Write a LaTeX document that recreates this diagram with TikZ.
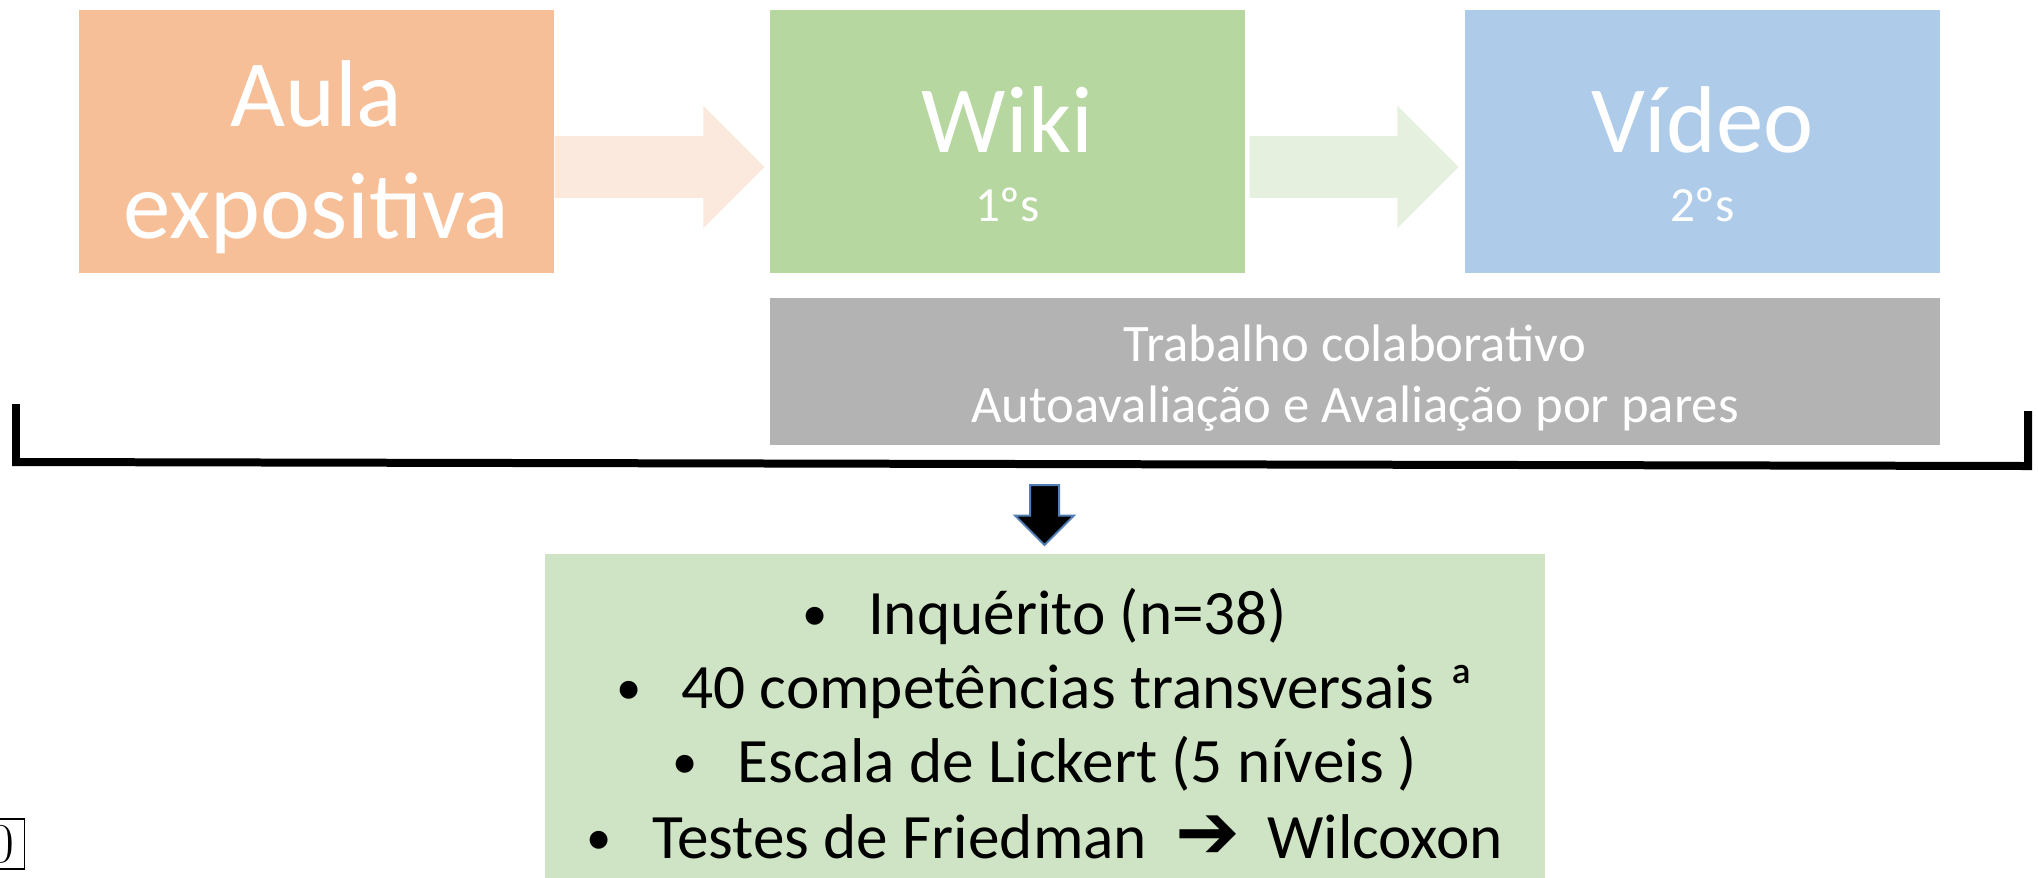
\documentclass[tikz,border=0pt]{standalone}
\usepackage{fontspec}
\usepackage{graphicx}
\newfontfamily\calFont{Carlito}
\newfontfamily\symFont{DejaVu Sans}
\usetikzlibrary{shapes.arrows}

\definecolor{aulaColor}{RGB}{247,191,152}
\definecolor{wikiColor}{RGB}{183,215,160}
\definecolor{videoColor}{RGB}{174,204,234}
\definecolor{grayColor}{RGB}{179,179,179}
\definecolor{resultsColor}{RGB}{207,228,196}
\definecolor{aulaArrowColor}{RGB}{251,233,222}
\definecolor{wikiArrowColor}{RGB}{230,240,223}
\definecolor{outlineColor}{RGB}{80,126,180}

\newcommand{\itm}{\raisebox{0.06em}{\scalebox{0.8}{\textbullet}}\hspace{0.8cm}}

\begin{document}
\begin{tikzpicture}[x=0.02cm, y=-0.02cm,
    boxStyle/.style={rectangle, inner sep=0, minimum width=9.5cm, minimum height=5.26cm},
    titleStyle/.style={anchor=base, inner sep=0, text=white, font=\calFont\fontsize{54}{64}\selectfont},
    subStyle/.style={anchor=base, inner sep=0, text=white, font=\calFont\fontsize{28}{34}\selectfont},
    grayTextStyle/.style={anchor=base, inner sep=0, text=white, font=\calFont\fontsize{30}{35}\selectfont},
    listStyle/.style={anchor=base, inner sep=0, text=black, font=\calFont\fontsize{36}{42}\selectfont},
    fatArrow/.style={single arrow, inner xsep=0, inner ysep=0.61cm, single arrow head extend=0.61cm, anchor=tail},
    downArrow/.style={single arrow, inner xsep=0, inner ysep=0.27cm, rotate=-90, minimum height=1.2cm, single arrow head extend=0.3cm, fill=black, draw=outlineColor, line width=0.04cm}]
    \useasboundingbox (0,0) rectangle (2038,877);

    \node[boxStyle, fill=aulaColor]  (aula_box)  at ( 316.5, 141.5) {};
    \node[boxStyle, fill=wikiColor]  (wiki_box)  at (1007.5, 141.5) {};
    \node[boxStyle, fill=videoColor] (video_box) at (1702.5, 141.5) {};

    \node[titleStyle] (aula_t1)  at ( 316.5, 126) {Aula};
    \node[titleStyle] (aula_t2)  at ( 316.5, 238) {expositiva};
    \node[titleStyle] (wiki_t)   at (1007.5, 152) {Wiki};
    \node[subStyle]   (wiki_s)   at (1007.5, 221) {1ºs};
    \node[titleStyle] (video_t)  at (1702.5, 152) {Vídeo};
    \node[subStyle]   (video_s)  at (1702.5, 221) {2ºs};

    \node[fatArrow, fill=aulaArrowColor, minimum height=4.2cm, yshift=-0.51cm] (arr_1) at (aula_box.east) {};
    \node[fatArrow, fill=wikiArrowColor, minimum height=4.18cm, xshift=0.08cm, yshift=-0.51cm] (arr_2) at (wiki_box.east) {};

    \node[rectangle, fill=grayColor, minimum width=23.4cm, minimum height=2.94cm] (collab_box) at (1355, 371.5) {};
    \node[grayTextStyle] (collab_t1) at (1355, 361) {Trabalho colaborativo};
    \node[grayTextStyle] (collab_t2) at (1355, 422) {Autoavaliação e Avaliação por pares};

    % bracket
    \draw[line width=0.16cm, line join=miter] (16,404) -- (16,462) -- (2028,466) -- (2028,411);

    \node[downArrow, anchor=tail] (down_arr) at (1044.5, 484) {};

    \node[rectangle, fill=resultsColor, minimum width=20cm, minimum height=6.52cm] (results_box) at (1045, 717) {};
    \node[listStyle] (res_1) at (1045, 634) {\itm Inquérito (n=38)};
    \node[listStyle] (res_2) at (1045, 708) {\itm 40 competências transversais ª};
    \node[listStyle] (res_3) at (1045, 782) {\itm Escala de Lickert (5 níveis )};
    \node[listStyle] (res_4) at (1045, 858) {\itm Testes de Friedman\ \ {\symFont\bfseries\fontsize{44}{44}\selectfont ➔}\hspace{0.25cm}\ Wilcoxon};

    \node[draw, line width=0.8pt, font=\fontsize{32}{38}\selectfont, inner xsep=0.2cm, inner ysep=0, minimum height=1cm, anchor=east] (page_zero) at (25, 844) {0};
\end{tikzpicture}
\end{document}
